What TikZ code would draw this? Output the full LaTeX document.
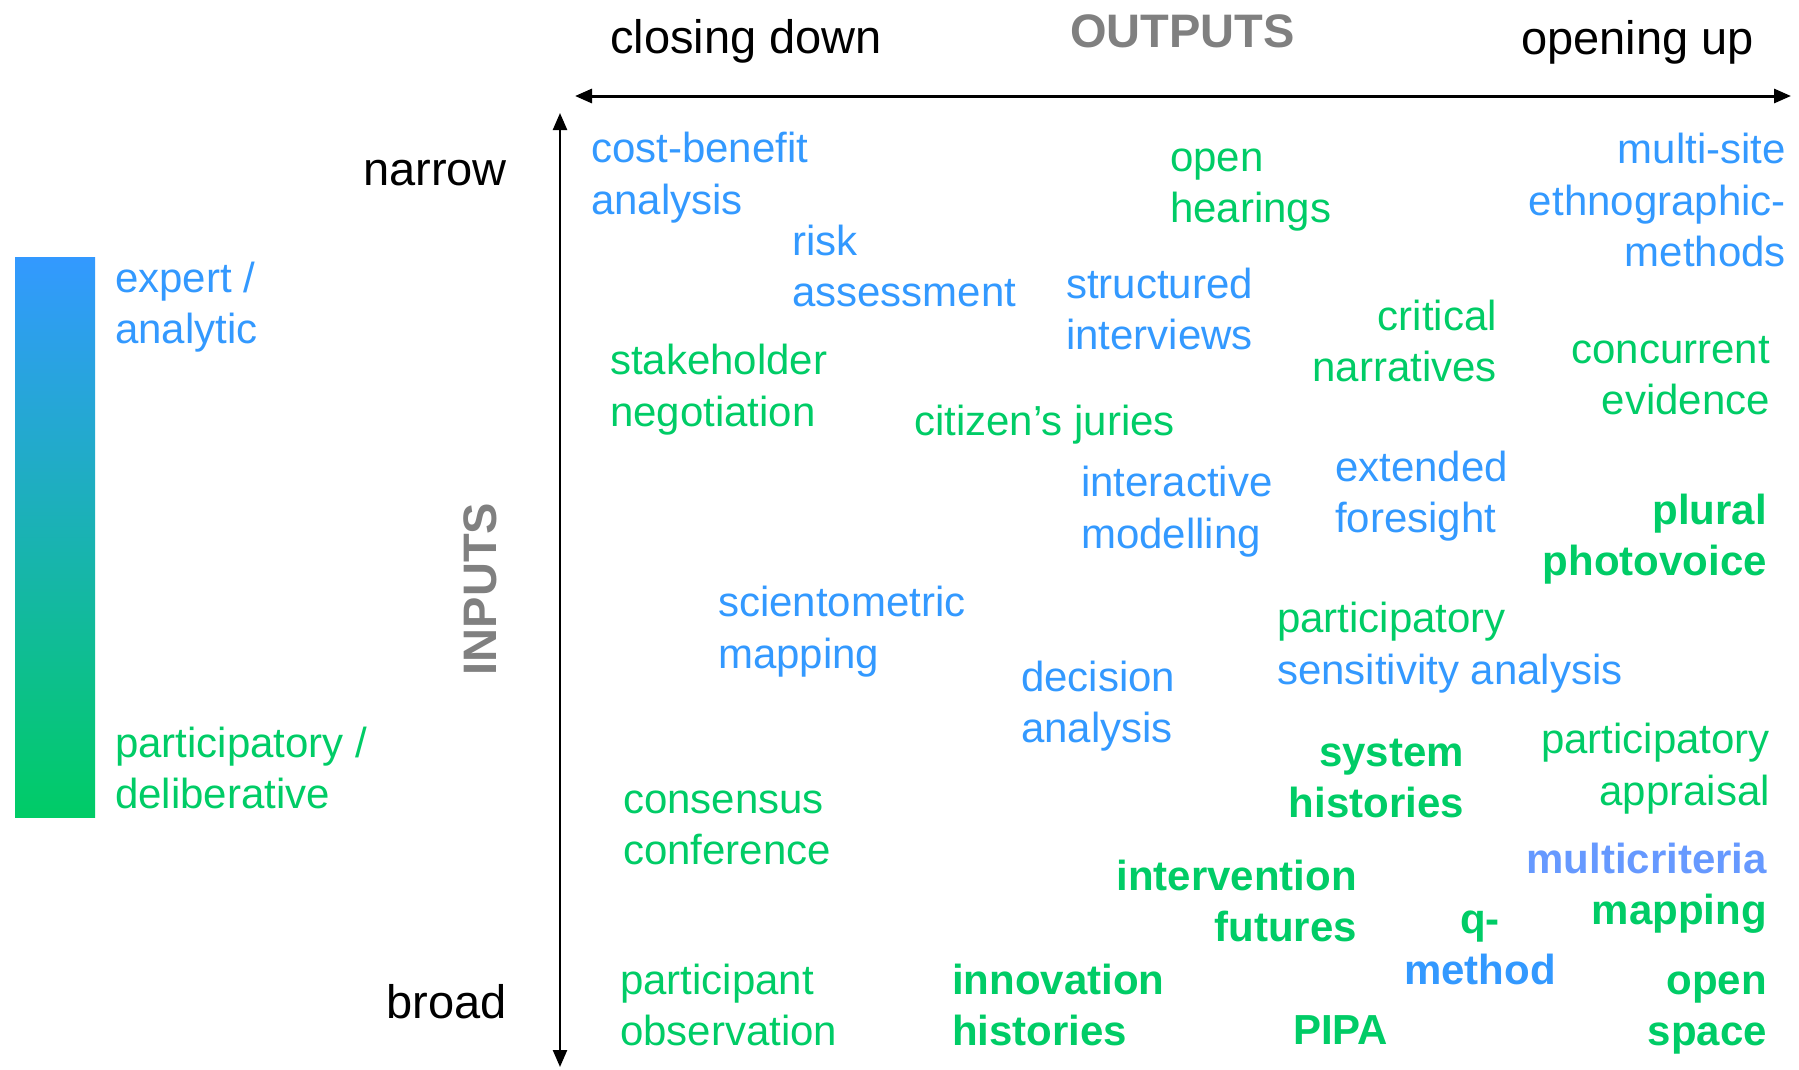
\documentclass[tikz,border=0pt]{standalone}
\usepackage{fontspec}
\setmainfont{Liberation Sans}
\usepackage{xcolor}
\usepackage{tikz}
\usetikzlibrary{arrows.meta}
\definecolor{analyticblue}{HTML}{3399FF}
\definecolor{deliberativegreen}{HTML}{00CC66}
\definecolor{mcmblue}{HTML}{6699FF}
\definecolor{axisgray}{HTML}{808080}

\begin{document}
\begin{tikzpicture}[x=1pt, y=-1pt,
  axislabel/.style={inner sep=0pt, font=\fontsize{47}{56}\selectfont},
  axistitle/.style={inner sep=0pt, text=axisgray, font=\fontsize{47}{56}\selectfont\bfseries},
  method/.style={inner sep=0pt, font=\fontsize{42}{51.5}\selectfont},
  boldmethod/.style={inner sep=0pt, font=\fontsize{42}{51}\selectfont\bfseries},
  axisarrow/.style={{Triangle[length=17pt, width=14pt]}-{Triangle[length=17pt, width=14pt]}}]

\useasboundingbox (0,0) rectangle (1799,1069);

% Legend: gradient bar, expert to participatory
\shade[top color=analyticblue, bottom color=deliberativegreen] (15,257) rectangle (95,817);
\node[method, text=analyticblue, anchor=west, align=left] (expert) at (115,307) {expert /\\analytic};
\node[method, text=deliberativegreen, anchor=west, align=left] (participatory) at (115,768) {participatory /\\deliberative};

% Axes
\coordinate (outleft) at (575,96);
\coordinate (outright) at (1791,96);
\coordinate (intop) at (560,113);
\coordinate (inbottom) at (560,1067);
\draw[line width=3pt, axisarrow] (outleft) -- (outright);
\draw[line width=2.4pt, axisarrow] (intop) -- (inbottom);

\node[axislabel, anchor=west] (closing) at (610,41.5) {closing down};
\node[axistitle, anchor=west] (outputs) at (1070,31) {OUTPUTS};
\node[axislabel, anchor=east] (opening) at (1754,42) {opening up};
\node[axislabel, anchor=east] (narrow) at (507,173.5) {narrow};
\node[axislabel, anchor=east] (broad) at (507,1002) {broad};
\node[axistitle, rotate=90] (inputs) at (480,589) {INPUTS};

% Methods, blue = expert/analytic, green = participatory/deliberative
\node[method, text=analyticblue, anchor=west, align=left] (cba) at (591,177.5) {cost-benefit\\analysis};
\node[method, text=analyticblue, anchor=west, align=left] (risk) at (792,266) {risk\\assessment};
\node[method, text=deliberativegreen, anchor=west, align=left] (hearings) at (1170,190) {open\\hearings};
\node[method, text=analyticblue, anchor=east, align=right] (ethno) at (1786,200) {multi-site\\ethnographic-\\methods};
\node[method, text=analyticblue, anchor=west, align=left] (interviews) at (1066,309) {structured\\interviews};
\node[method, text=deliberativegreen, anchor=east, align=right] (narratives) at (1497,341) {critical\\narratives};
\node[method, text=deliberativegreen, anchor=east, align=right] (evidence) at (1770,375.5) {concurrent\\evidence};
\node[method, text=deliberativegreen, anchor=west, align=left] (stakeholder) at (610,389.5) {stakeholder\\negotiation};
\node[method, text=deliberativegreen, anchor=west] (juries) at (914,424.5) {citizen’s juries};
\node[method, text=analyticblue, anchor=west, align=left] (modelling) at (1081,511.5) {interactive\\modelling};
\node[method, text=analyticblue, anchor=west, align=left] (foresight) at (1335,496) {extended\\foresight};
\node[boldmethod, text=deliberativegreen, anchor=east, align=right] (photovoice) at (1767,539.5) {plural\\photovoice};
\node[method, text=analyticblue, anchor=west, align=left] (sciento) at (718,631.5) {scientometric\\mapping};
\node[method, text=analyticblue, anchor=west, align=left] (psa) at (1277,647.5) {\textcolor{deliberativegreen}{participatory}\\sensitivity analysis};
\node[method, text=analyticblue, anchor=west, align=left] (decision) at (1021,706) {decision\\analysis};
\node[boldmethod, text=deliberativegreen, anchor=east, align=right] (system) at (1464,778) {system\\histories};
\node[method, text=deliberativegreen, anchor=east, align=right] (appraisal) at (1770,768.5) {participatory\\appraisal};
\node[method, text=deliberativegreen, anchor=west, align=left] (consensus) at (623,828) {consensus\\conference};
\node[boldmethod, text=deliberativegreen, anchor=east, align=right] (intervention) at (1357,901) {intervention\\futures};
\node[boldmethod, text=deliberativegreen, anchor=east, align=right] (mcm) at (1767,888.5) {\textcolor{mcmblue}{multicriteria}\\mapping};
\node[boldmethod, text=analyticblue, align=center] (qmethod) at (1480,947.5) {\textcolor{deliberativegreen}{q-}\\method};
\node[method, text=deliberativegreen, anchor=west, align=left] (observation) at (620,1005) {participant\\observation};
\node[boldmethod, text=deliberativegreen, anchor=west, align=left] (innovation) at (952,1005) {innovation\\histories};
\node[boldmethod, text=deliberativegreen, anchor=west] (pipa) at (1293,1030) {PIPA};
\node[boldmethod, text=deliberativegreen, anchor=east, align=right] (openspace) at (1767,1013) {open\\space};

\end{tikzpicture}
\end{document}
